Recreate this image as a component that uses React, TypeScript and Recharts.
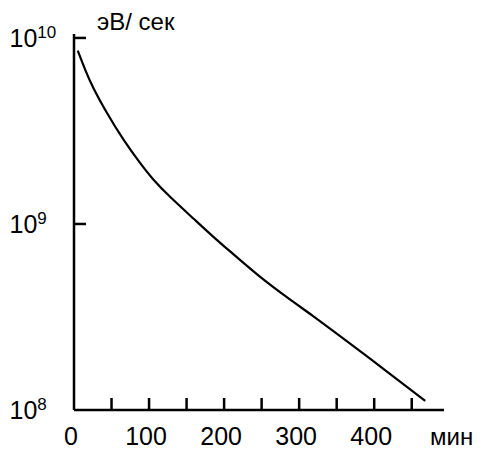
import React from 'react';
import { LineChart, Line, XAxis, YAxis, Label } from 'recharts';

const minutes = [5, 15, 26, 44, 66, 88, 106, 128, 159, 188, 208, 244, 284, 319, 359, 417, 468];
const energy = [8.55e9, 6.74e9, 5.37e9, 3.95e9, 2.84e9, 2.13e9, 1.73e9, 1.40e9, 1.07e9, 8.36e8, 7.12e8, 5.36e8, 4.03e8, 3.19e8, 2.42e8, 1.61e8, 1.12e8];
const xTicks = [0, 50, 100, 150, 200, 250, 300, 350, 400, 450];
const xLabeled = [0, 100, 200, 300, 400];
const yTicks = [1e8, 1e9, 1e10];
const yExponents = ['8', '9', '10'];
const yUnit = 'эВ/ сек';
const xUnit = 'мин';

const data = minutes.map((t, i) => ({ t, e: energy[i] }));

const FONT = '"Liberation Sans", Arial, sans-serif';

const XTick = (props: any) => {
  const { x, payload } = props;
  const v = payload.value;
  const axisY = 410;
  return (
    <g>
      {v !== 0 && (
        <line x1={x} x2={x} y1={axisY} y2={axisY - 12} stroke="#000" strokeWidth={2.5} />
      )}
      {xLabeled.includes(v) && (
        <text x={x - 3} y={445} textAnchor="middle" fontSize={25} fontFamily={FONT} fill="#000">
          {String(v)}
        </text>
      )}
    </g>
  );
};

const YTick = (props: any) => {
  const { y, payload } = props;
  const idx = yTicks.indexOf(payload.value);
  const exp = idx >= 0 ? yExponents[idx] : '';
  return (
    <g>
      {idx > 0 && <line x1={74} x2={86} y1={y} y2={y} stroke="#000" strokeWidth={2.5} />}
      <text x={9.5} y={y + 9} fontSize={25} fontFamily={FONT} fill="#000">
        10
        <tspan dy={-9} fontSize={17}>{exp}</tspan>
      </text>
    </g>
  );
};

export default function App() {
  return (
    <div style={{ position: 'absolute', left: 0, top: 0, width: 480, height: 450, background: '#fff' }}>
      <LineChart
        width={480}
        height={450}
        data={data}
        margin={{ top: 34, right: 36, left: 0, bottom: 0 }}
      >
        <XAxis
          dataKey="t"
          type="number"
          domain={[0, 493]}
          ticks={xTicks}
          interval={0}
          height={40}
          axisLine={{ stroke: '#000', strokeWidth: 2.5 }}
          tickLine={false}
          tick={<XTick />}
          allowDataOverflow
        >
          <Label
            content={() => (
              <text x={430} y={445} fontSize={24} fontFamily={FONT} fill="#000">
                {xUnit}
              </text>
            )}
          />
        </XAxis>
        <YAxis
          dataKey="e"
          type="number"
          scale="log"
          domain={[1e8, 1.05e10]}
          ticks={yTicks}
          interval={0}
          width={74}
          axisLine={{ stroke: '#000', strokeWidth: 2.5 }}
          tickLine={false}
          tick={<YTick />}
          allowDataOverflow
        >
          <Label
            content={() => (
              <text x={97} y={30} fontSize={24} fontFamily={FONT} fill="#000">
                {yUnit}
              </text>
            )}
          />
        </YAxis>
        <Line
          type="natural"
          dataKey="e"
          stroke="#000"
          strokeWidth={2.2}
          dot={false}
          isAnimationActive={false}
        />
      </LineChart>
    </div>
  );
}
